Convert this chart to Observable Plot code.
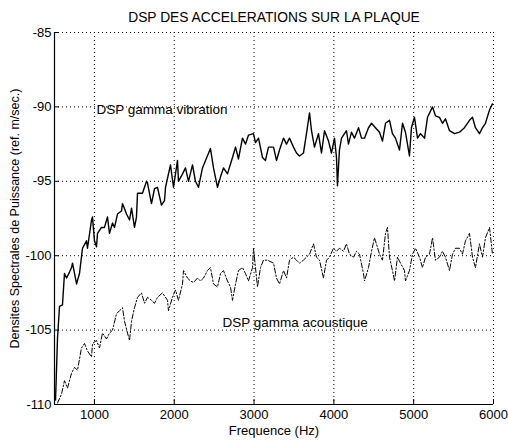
<!DOCTYPE html>
<html>
<head>
<meta charset="utf-8">
<script src="https://cdn.jsdelivr.net/npm/d3@7"></script>
<script src="https://cdn.jsdelivr.net/npm/@observablehq/plot@0.6"></script>
<style>
  html, body { margin: 0; padding: 0; background: white; }
</style>
</head>
<body>
<div id="chart"></div>
<script>
const titleText = "DSP DES ACCELERATIONS SUR LA PLAQUE";
const xLabel = "Frequence (Hz)";
const yLabel = "Densites Spectrales de Puissance (ref. m/sec.)";
const xTicks = [1000, 2000, 3000, 4000, 5000, 6000];
const yTicks = [-85, -90, -95, -100, -105, -110];

const vibFreq = [513,538,563,600,625,651,688,713,726,776,813,851,901,913,964,976,1001,1026,1039,1089,1126,1164,1189,1227,1252,1289,1339,1352,1402,1440,1465,1502,1527,1540,1565,1602,1653,1665,1715,1753,1790,1840,1878,1891,1953,1991,2041,2053,2104,2141,2179,2229,2266,2304,2354,2392,2454,2492,2542,2580,2617,2667,2730,2768,2805,2855,2893,2930,2993,3018,3056,3106,3143,3181,3244,3281,3319,3369,3407,3444,3494,3532,3569,3619,3657,3695,3720,3757,3807,3845,3883,3933,3970,4008,4033,4045,4070,4096,4158,4183,4221,4258,4309,4346,4384,4434,4472,4521,4572,4609,4647,4697,4734,4772,4822,4860,4897,4947,4972,5010,5048,5085,5136,5173,5236,5273,5323,5361,5398,5449,5511,5574,5636,5699,5737,5774,5824,5862,5899,5950,5987];
const vibDb = [-109.7,-105.5,-103.4,-103.3,-101.2,-101.5,-101.1,-100.8,-100.5,-101.9,-101.2,-99.5,-99.0,-99.5,-97.6,-97.4,-99.0,-99.4,-98.5,-98.1,-98.1,-97.4,-98.5,-97.8,-98.1,-97.2,-97.0,-96.5,-97.2,-97.6,-96.8,-98.1,-97.4,-95.8,-95.8,-95.8,-95.0,-95.1,-96.5,-95.5,-95.4,-96.6,-96.3,-95.4,-93.9,-95.4,-93.6,-95.0,-94.5,-94.1,-95.0,-93.9,-95.0,-95.4,-94.1,-93.6,-92.8,-94.1,-95.4,-94.7,-94.1,-94.5,-93.4,-92.7,-93.5,-92.1,-92.5,-91.9,-91.8,-92.4,-92.1,-93.4,-93.6,-92.7,-92.7,-93.6,-92.9,-92.1,-92.5,-92.1,-92.7,-93.1,-93.3,-93.1,-91.8,-90.4,-91.6,-92.7,-91.8,-93.1,-91.6,-92.3,-93.1,-92.1,-93.4,-95.3,-92.9,-92.1,-91.6,-92.5,-91.7,-92.1,-91.4,-92.1,-92.1,-91.4,-91.1,-91.4,-91.7,-92.3,-91.1,-90.9,-91.8,-92.1,-92.9,-91.1,-91.7,-93.3,-91.4,-90.7,-92.1,-91.8,-92.1,-90.7,-90.0,-90.6,-90.7,-91.1,-90.8,-91.6,-91.8,-91.7,-91.4,-90.9,-90.7,-91.4,-91.8,-91.4,-91.1,-90.2,-89.8];

const acFreq = [538,588,625,663,713,751,788,838,876,913,964,976,1026,1064,1101,1151,1189,1227,1277,1314,1352,1377,1415,1440,1465,1502,1540,1590,1628,1665,1715,1753,1790,1853,1916,1928,1978,2016,2053,2104,2116,2166,2204,2241,2292,2329,2367,2417,2454,2492,2542,2580,2617,2667,2705,2730,2768,2805,2855,2893,2930,2981,2993,3018,3043,3081,3118,3168,3244,3281,3319,3369,3407,3444,3494,3532,3569,3619,3657,3695,3745,3782,3820,3870,3908,3945,3995,4033,4070,4121,4158,4196,4246,4283,4321,4371,4384,4434,4472,4509,4521,4572,4609,4647,4672,4697,4734,4760,4797,4835,4885,4897,4947,4985,5023,5073,5110,5148,5198,5236,5273,5323,5361,5398,5449,5486,5524,5574,5611,5649,5699,5737,5774,5824,5862,5899,5950,5987];
const acDb = [-109.9,-109.3,-108.4,-108.9,-107.9,-107.5,-107.7,-106.2,-105.9,-106.4,-106.8,-105.9,-105.7,-106.2,-105.2,-105.6,-105.2,-105.0,-103.9,-103.7,-103.5,-104.4,-105.2,-105.7,-104.4,-103.5,-102.8,-102.5,-103.2,-102.8,-103.0,-103.2,-102.8,-102.5,-103.0,-103.7,-102.8,-102.3,-103.0,-101.9,-101.0,-101.5,-101.7,-101.8,-101.5,-101.7,-101.5,-101.0,-100.8,-101.9,-102.1,-101.2,-101.0,-101.7,-102.1,-103.0,-101.9,-101.0,-100.8,-101.2,-101.7,-100.8,-99.5,-100.8,-102.1,-100.8,-100.3,-100.3,-100.5,-101.5,-101.9,-101.0,-101.5,-100.3,-100.1,-100.3,-100.5,-100.3,-100.1,-99.9,-99.2,-100.1,-100.3,-101.5,-100.3,-100.1,-99.5,-99.7,-99.5,-99.7,-99.2,-99.9,-100.1,-99.7,-99.9,-101.2,-101.7,-100.8,-99.7,-98.8,-99.0,-99.9,-100.3,-98.5,-98.1,-100.1,-101.0,-101.7,-100.1,-100.5,-101.0,-101.7,-101.0,-99.9,-99.5,-100.1,-100.8,-100.1,-99.9,-98.8,-100.3,-100.1,-99.7,-100.1,-101.0,-99.9,-99.5,-99.5,-99.9,-99.0,-98.5,-100.1,-100.8,-99.2,-100.1,-98.8,-98.1,-99.9];

const labelText = ["DSP gamma vibration", "DSP gamma acoustique"];
const labelFreq = [1026, 2605];
const labelDb = [-90.2, -104.5];

const vib = vibFreq.map((f, i) => ({f, v: vibDb[i]}));
const ac = acFreq.map((f, i) => ({f, v: acDb[i]}));
const labels = labelText.map((t, i) => ({t, f: labelFreq[i], v: labelDb[i]}));

const W = 508, H = 441, mL = 54, mR = 15, mT = 32, mB = 37;
const frameW = W - mL - mR, frameH = H - mT - mB;
const fmt = d => String(d);
const dotted = {stroke: "black", strokeOpacity: 1, strokeWidth: 1, strokeDasharray: "1,3"};

const chart = Plot.plot({
  width: W, height: H,
  marginLeft: mL, marginRight: mR, marginTop: mT, marginBottom: mB,
  style: {fontFamily: "'Liberation Sans', Arial, Helvetica, sans-serif", fontSize: "13px", color: "black", background: "white", overflow: "visible"},
  x: {domain: [500, 6000]},
  y: {domain: [-110, -85]},
  marks: [
    Plot.gridX(xTicks, dotted),
    Plot.gridY(yTicks, dotted),
    Plot.ruleX([500], {stroke: "black", strokeWidth: 1.2}),
    Plot.ruleY([-110], {stroke: "black", strokeWidth: 1.2}),
    Plot.tickX(xTicks, {x: d => d, stroke: "black", insetTop: frameH - 5}),
    Plot.tickY(yTicks, {y: d => d, stroke: "black", insetRight: frameW - 5}),
    Plot.axisX(xTicks, {tickSize: 0, tickPadding: 5, tickFormat: fmt, label: null, fontSize: 13}),
    Plot.axisY(yTicks, {tickSize: 0, tickPadding: 3, tickFormat: fmt, label: null, fontSize: 13}),
    Plot.line(ac, {x: "f", y: "v", stroke: "black", strokeWidth: 1, strokeDasharray: "5,2,1.5,2"}),
    Plot.line(vib, {x: "f", y: "v", stroke: "black", strokeWidth: 1.4}),
    Plot.text(labels, {x: "f", y: "v", text: "t", textAnchor: "start", fontSize: 13.5, lineAnchor: "middle"}),
    Plot.text([titleText], {frameAnchor: "top", dy: -15, fontSize: 13.8, lineAnchor: "middle"}),
    Plot.text([xLabel], {frameAnchor: "bottom", dy: 26, fontSize: 13, lineAnchor: "middle"}),
    Plot.text([yLabel], {frameAnchor: "left", dx: -40, rotate: -90, textAnchor: "middle", fontSize: 12.5, lineAnchor: "middle"})
  ]
});
document.getElementById("chart").appendChild(chart);
</script>
</body>
</html>
